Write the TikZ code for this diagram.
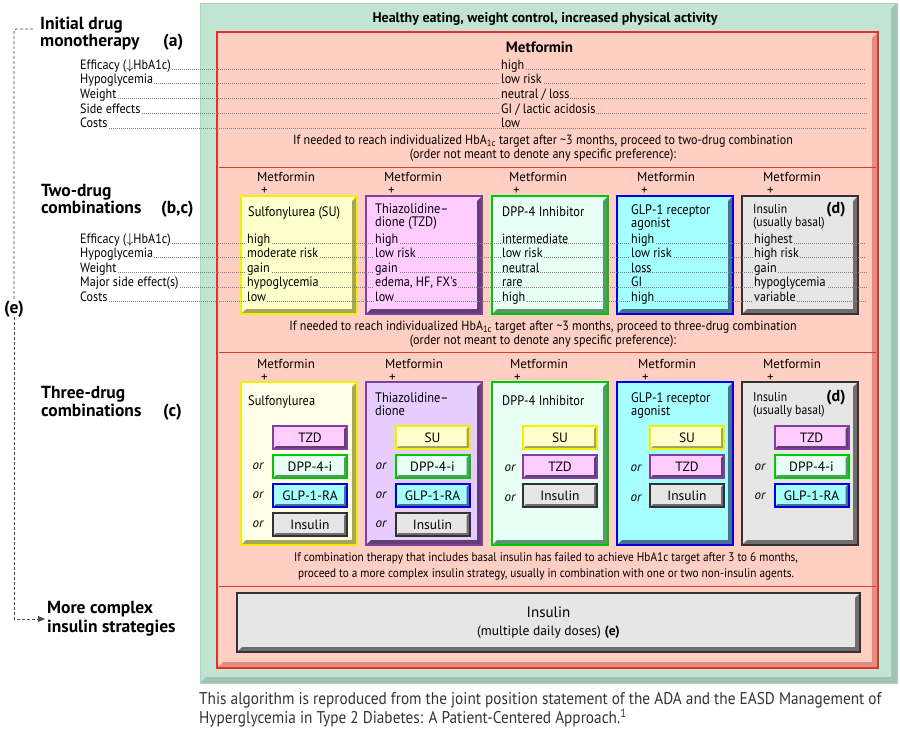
\documentclass[tikz,border=0pt]{standalone}
\usepackage{fontspec}
\setmainfont{PT Sans}
\newfontfamily\condfont{PT Sans}[FakeStretch=0.9]
\usepackage{tikz}
\usetikzlibrary{arrows,arrows.meta,calc}
\definecolor{grnF}{RGB}{193,228,211}
\definecolor{grnD}{RGB}{176,210,193}
\definecolor{grnS}{RGB}{160,196,178}
\definecolor{redF}{RGB}{255,207,196}
\definecolor{redD}{RGB}{232,48,40}
\definecolor{redS}{RGB}{228,140,128}
\definecolor{sepR}{RGB}{214,60,50}
\definecolor{suF}{RGB}{255,255,204}
\definecolor{suL}{RGB}{255,255,232}
\definecolor{suD}{RGB}{240,240,0}
\definecolor{suS}{RGB}{166,166,90}
\definecolor{tzF}{RGB}{255,204,255}
\definecolor{tzL}{RGB}{230,204,255}
\definecolor{tzD}{RGB}{128,64,160}
\definecolor{tzS}{RGB}{100,60,120}
\definecolor{dpF}{RGB}{232,255,246}
\definecolor{dpD}{RGB}{0,200,0}
\definecolor{dpS}{RGB}{90,150,110}
\definecolor{glF}{RGB}{166,255,255}
\definecolor{glD}{RGB}{0,0,220}
\definecolor{glS}{RGB}{70,110,150}
\definecolor{inF}{RGB}{230,230,230}
\definecolor{inD}{RGB}{50,50,50}
\definecolor{inS}{RGB}{110,110,110}
\tikzset{bev/.style n args={4}{fill=#1,draw=#2,line width=1.5pt,
  path picture={\fill[#3] (path picture bounding box.south west)
    -- (path picture bounding box.south east) -- (path picture bounding box.north east)
    -- ++(-#4,#4) -- ($(path picture bounding box.south east)+(-#4,-#4)$)
    -- ($(path picture bounding box.south west)+(#4,-#4)$) -- cycle;}}}
\tikzset{sm/.style n args={3}{bev={#1}{#2}{#3}{3},line width=2pt,minimum width=74pt,minimum height=23pt,
  inner sep=0pt,font=\fontsize{13.5}{15}\selectfont}}
\tikzset{bx/.style n args={3}{bev={#1}{#2}{#3}{5},minimum width=116pt}}
\tikzstyle{none}=[inner sep=0pt]
\tikzstyle{head}=[anchor=base west,inner sep=0pt,font=\bfseries\fontsize{17.5}{19}\selectfont]
\tikzstyle{lbl}=[anchor=base west,inner sep=0pt,inner xsep=1pt,font=\condfont\fontsize{13.5}{13}\selectfont]
\tikzstyle{val}=[lbl]
\tikzstyle{ttl}=[anchor=north west,inner sep=0pt,align=left,font=\condfont\fontsize{13.8}{13}\selectfont]
\tikzstyle{metp}=[anchor=west,inner sep=0pt,align=left,font=\fontsize{13}{15}\selectfont]
\tikzstyle{note}=[inner sep=0pt,align=center,font=\condfont\fontsize{13.4}{14.5}\selectfont]
\tikzstyle{orr}=[inner sep=0pt,font=\itshape\fontsize{13}{15}\selectfont]
\tikzstyle{leader}=[gray,line width=0.5pt,dash pattern=on 0.6pt off 1.4pt]
\tikzstyle{sep}=[sepR,line width=1pt]
\tikzstyle{brk}=[black!70,line width=0.9pt,dash pattern=on 3pt off 2pt]

\begin{document}
\begin{tikzpicture}[x=1pt, y=-1pt]
        \useasboundingbox (0, 0) rectangle (900, 737);
        % frames
        \node [bev={grnF}{grnD}{grnS}{6}, line width=1pt, minimum width=697pt, minimum height=680pt] (0) at (548.5, 343) {};
        \node [bev={redF}{redD}{redS}{6}, line width=2pt, minimum width=661pt, minimum height=636pt] (1) at (547.5, 350) {};
        \node [style=none, font=\bfseries\fontsize{14}{16}\selectfont] (2) at (545, 19) {Healthy eating, weight control, increased physical activity};
        \node [style=none, font=\bfseries\fontsize{15}{17}\selectfont] (3) at (539.5, 47) {Metformin};
        \draw [style=sep] (219, 167) -- (876, 167);
        \draw [style=sep] (219, 352) -- (876, 352);
        \draw [style=sep] (219, 586) -- (876, 586);

        % left headings
        \node [style=head] (4) at (40, 29) {Initial drug};
        \node [style=head] (5) at (40, 46) {monotherapy};
        \node [style=head] (6) at (163, 46) {(a)};
        \node [style=head] (7) at (41, 196) {Two-drug};
        \node [style=head] (8) at (41, 213) {combinations};
        \node [style=head] (9) at (161, 213) {(b,c)};
        \node [style=head] (10) at (41, 398) {Three-drug};
        \node [style=head] (11) at (41, 416) {combinations};
        \node [style=head] (12) at (163, 416) {(c)};
        \node [style=none, anchor=west, align=left, font=\bfseries\fontsize{17.5}{19}\selectfont] (13) at (47, 619) {More complex\\insulin strategies};
        \node [style=none, font=\bfseries\fontsize{17.5}{19}\selectfont] (14) at (14, 309) {(e)};
        \coordinate (15) at (33, 29);
        \draw [style=brk, rounded corners=2pt] (15) -| (14.north);
        \draw [style=brk, -{Triangle[length=7pt,width=6pt]}] (14.south) |- ([xshift=-2pt]13.west);

        % monotherapy rows
        \node [style=lbl] (20) at (79, 69) {Efficacy (\(\downarrow\)HbA1c)};
        \node [style=lbl] (21) at (79, 83.7) {Hypoglycemia};
        \node [style=lbl] (22) at (79, 98.4) {Weight};
        \node [style=lbl] (23) at (79, 113.1) {Side effects};
        \node [style=lbl] (24) at (79, 127.8) {Costs};
        \coordinate (25) at (866, 69);
        \coordinate (26) at (866, 83.7);
        \coordinate (27) at (866, 98.4);
        \coordinate (28) at (866, 113.1);
        \coordinate (29) at (866, 127.8);
        \draw [style=leader] (20.base east) -- (25);
        \draw [style=leader] (21.base east) -- (26);
        \draw [style=leader] (22.base east) -- (27);
        \draw [style=leader] (23.base east) -- (28);
        \draw [style=leader] (24.base east) -- (29);
        \node [style=val, fill=redF] (30) at (500, 69) {high};
        \node [style=val, fill=redF] (31) at (500, 83.7) {low risk};
        \node [style=val, fill=redF] (32) at (500, 98.4) {neutral / loss};
        \node [style=val, fill=redF] (33) at (500, 113.1) {GI / lactic acidosis};
        \node [style=val, fill=redF] (34) at (500, 127.8) {low};
        \node [style=note] (35) at (543, 148) {If needed to reach individualized HbA\textsubscript{1c} target after \textasciitilde3 months, proceed to two-drug combination\\(order not meant to denote any specific preference):};

        % two-drug combinations
        \node [style=metp] (40) at (257, 183.5) {Metformin\\[-2pt]\hspace*{4pt}+};
        \node [style=metp] (41) at (384, 183.5) {Metformin\\[-2pt]\hspace*{4pt}+};
        \node [style=metp] (42) at (509, 183.5) {Metformin\\[-2pt]\hspace*{4pt}+};
        \node [style=metp] (43) at (637, 183.5) {Metformin\\[-2pt]\hspace*{4pt}+};
        \node [style=metp] (44) at (763, 183.5) {Metformin\\[-2pt]\hspace*{4pt}+};
        \node [bx={suF}{suD}{suS}, minimum height=118pt] (45) at (299, 255) {};
        \node [bx={tzF}{tzD}{tzS}, minimum height=118pt] (46) at (424, 255) {};
        \node [bx={dpF}{dpD}{dpS}, minimum height=118pt] (47) at (550, 255) {};
        \node [bx={glF}{glD}{glS}, minimum height=118pt] (48) at (675, 255) {};
        \node [bx={inF}{inD}{inS}, minimum height=118pt] (49) at (800, 255) {};
        \node [style=ttl] (50) at (248, 206.5) {Sulfonylurea (SU)};
        \node [style=ttl] (51) at (375, 204) {Thiazolidine\textendash\\dione (TZD)};
        \node [style=ttl] (52) at (502, 206.5) {DPP-4 Inhibitor};
        \node [style=ttl] (53) at (631, 204) {GLP-1 receptor\\agonist};
        \node [style=ttl, font=\condfont\fontsize{13}{13}\selectfont] (54) at (753, 204) {Insulin\\(usually basal)};
        \node [style=none, font=\bfseries\fontsize{16}{18}\selectfont] (55) at (836, 210) {(d)};
        \node [style=lbl] (56) at (79, 243) {Efficacy (\(\downarrow\)HbA1c)};
        \node [style=lbl] (57) at (79, 257.6) {Hypoglycemia};
        \node [style=lbl] (58) at (79, 272.2) {Weight};
        \node [style=lbl] (59) at (79, 286.8) {Major side effect(s)};
        \node [style=lbl] (60) at (79, 301.4) {Costs};
        \coordinate (61) at (866, 243);
        \coordinate (62) at (866, 257.6);
        \coordinate (63) at (866, 272.2);
        \coordinate (64) at (866, 286.8);
        \coordinate (65) at (866, 301.4);
        \draw [style=leader] (56.base east) -- (61);
        \draw [style=leader] (57.base east) -- (62);
        \draw [style=leader] (58.base east) -- (63);
        \draw [style=leader] (59.base east) -- (64);
        \draw [style=leader] (60.base east) -- (65);
        \node [style=val, fill=suF] (66) at (246, 243) {high};
        \node [style=val, fill=suF] (67) at (246, 257.6) {moderate risk};
        \node [style=val, fill=suF] (68) at (246, 272.2) {gain};
        \node [style=val, fill=suF] (69) at (246, 286.8) {hypoglycemia};
        \node [style=val, fill=suF] (70) at (246, 301.4) {low};
        \node [style=val, fill=tzF] (71) at (374, 243) {high};
        \node [style=val, fill=tzF] (72) at (374, 257.6) {low risk};
        \node [style=val, fill=tzF] (73) at (374, 272.2) {gain};
        \node [style=val, fill=tzF] (74) at (374, 286.8) {edema, HF, FX's};
        \node [style=val, fill=tzF] (75) at (374, 301.4) {low};
        \node [style=val, fill=dpF] (76) at (501, 243) {intermediate};
        \node [style=val, fill=dpF] (77) at (501, 257.6) {low risk};
        \node [style=val, fill=dpF] (78) at (501, 272.2) {neutral};
        \node [style=val, fill=dpF] (79) at (501, 286.8) {rare};
        \node [style=val, fill=dpF] (80) at (501, 301.4) {high};
        \node [style=val, fill=glF] (81) at (630, 243) {high};
        \node [style=val, fill=glF] (82) at (630, 257.6) {low risk};
        \node [style=val, fill=glF] (83) at (630, 272.2) {loss};
        \node [style=val, fill=glF] (84) at (630, 286.8) {GI};
        \node [style=val, fill=glF] (85) at (630, 301.4) {high};
        \node [style=val, fill=inF] (86) at (753, 243) {highest};
        \node [style=val, fill=inF] (87) at (753, 257.6) {high risk};
        \node [style=val, fill=inF] (88) at (753, 272.2) {gain};
        \node [style=val, fill=inF] (89) at (753, 286.8) {hypoglycemia};
        \node [style=val, fill=inF] (90) at (753, 301.4) {variable};
        \node [style=note] (91) at (543, 334) {If needed to reach individualized HbA\textsubscript{1c} target after \textasciitilde3 months, proceed to three-drug combination\\(order not meant to denote any specific preference):};

        % three-drug combinations
        \node [style=metp] (100) at (257, 370.5) {Metformin\\[-2pt]\hspace*{4pt}+};
        \node [style=metp] (101) at (385, 370.5) {Metformin\\[-2pt]\hspace*{4pt}+};
        \node [style=metp] (102) at (510, 370.5) {Metformin\\[-2pt]\hspace*{4pt}+};
        \node [style=metp] (103) at (638, 370.5) {Metformin\\[-2pt]\hspace*{4pt}+};
        \node [style=metp] (104) at (763, 370.5) {Metformin\\[-2pt]\hspace*{4pt}+};
        \node [bx={suL}{suD}{suS}, minimum height=163pt] (105) at (299, 463.5) {};
        \node [bx={tzL}{tzD}{tzS}, minimum height=163pt] (106) at (424, 463.5) {};
        \node [bx={dpF}{dpD}{dpS}, minimum height=163pt] (107) at (550, 463.5) {};
        \node [bx={glF}{glD}{glS}, minimum height=163pt] (108) at (675, 463.5) {};
        \node [bx={inF}{inD}{inS}, minimum height=163pt] (109) at (800, 463.5) {};
        \node [style=ttl] (110) at (248, 395.5) {Sulfonylurea};
        \node [style=ttl] (111) at (375, 392.5) {Thiazolidine\textendash\\dione};
        \node [style=ttl] (112) at (502, 395.5) {DPP-4 Inhibitor};
        \node [style=ttl] (113) at (631, 392.5) {GLP-1 receptor\\agonist};
        \node [style=ttl, font=\condfont\fontsize{13}{13}\selectfont] (114) at (753, 392.5) {Insulin\\(usually basal)};
        \node [style=none, font=\bfseries\fontsize{16}{18}\selectfont] (115) at (836, 398) {(d)};
        \node [sm={tzF}{tzD}{tzS}] (116) at (310, 437.5) {TZD};
        \node [sm={dpF}{dpD}{dpS}] (117) at (310, 466.5) {DPP-4-i};
        \node [sm={glF}{glD}{glS}] (118) at (310, 495.5) {GLP-1-RA};
        \node [sm={inF}{inD}{inS}] (119) at (310, 524.5) {Insulin};
        \node [style=orr] (120) at (258, 466.5) {or};
        \node [style=orr] (121) at (258, 495.5) {or};
        \node [style=orr] (122) at (258, 524.5) {or};
        \node [sm={suF}{suD}{suS}] (123) at (432.5, 437.5) {SU};
        \node [sm={dpF}{dpD}{dpS}] (124) at (432.5, 466.5) {DPP-4-i};
        \node [sm={glF}{glD}{glS}] (125) at (432.5, 495.5) {GLP-1-RA};
        \node [sm={inF}{inD}{inS}] (126) at (432.5, 524.5) {Insulin};
        \node [style=orr] (127) at (381, 466.5) {or};
        \node [style=orr] (128) at (381, 495.5) {or};
        \node [style=orr] (129) at (381, 524.5) {or};
        \node [sm={suF}{suD}{suS}] (130) at (560, 437.5) {SU};
        \node [sm={tzF}{tzD}{tzS}] (131) at (560, 466.5) {TZD};
        \node [sm={inF}{inD}{inS}] (132) at (560, 495.5) {Insulin};
        \node [style=orr] (133) at (510, 468.5) {or};
        \node [style=orr] (134) at (510, 498.5) {or};
        \node [sm={suF}{suD}{suS}] (135) at (687, 437.5) {SU};
        \node [sm={tzF}{tzD}{tzS}] (136) at (687, 466.5) {TZD};
        \node [sm={inF}{inD}{inS}] (137) at (687, 495.5) {Insulin};
        \node [style=orr] (138) at (636, 468.5) {or};
        \node [style=orr] (139) at (636, 498.5) {or};
        \node [sm={tzF}{tzD}{tzS}] (140) at (811.5, 437.5) {TZD};
        \node [sm={dpF}{dpD}{dpS}] (141) at (811.5, 466.5) {DPP-4-i};
        \node [sm={glF}{glD}{glS}] (142) at (811.5, 495.5) {GLP-1-RA};
        \node [style=orr] (143) at (760, 467.5) {or};
        \node [style=orr] (144) at (760, 496.5) {or};
        \node [style=note, font=\condfont\fontsize{12.5}{16}\selectfont] (145) at (546, 566) {If combination therapy that includes basal insulin has failed to achieve HbA1c target after 3 to 6 months,\\proceed to a more complex insulin strategy, usually in combination with one or two non-insulin agents.};

        % insulin strategies
        \node [bev={inF}{inD}{inS}{5}, minimum width=623pt, minimum height=59pt, align=center, font=\fontsize{15}{18}\selectfont] (150) at (548.5, 622.5) {Insulin\\{\fontsize{13.5}{16}\selectfont(multiple daily doses) \textbf{(e)}}};
        \node [style=none, anchor=north west, align=left, text=black!80, font=\condfont\fontsize{17}{17.5}\selectfont] (151) at (199, 692) {This algorithm is reproduced from the joint position statement of the ADA and the EASD Management of\\Hyperglycemia in Type 2 Diabetes: A Patient-Centered Approach.\textsuperscript{1}};
    \end{tikzpicture}
\end{document}
